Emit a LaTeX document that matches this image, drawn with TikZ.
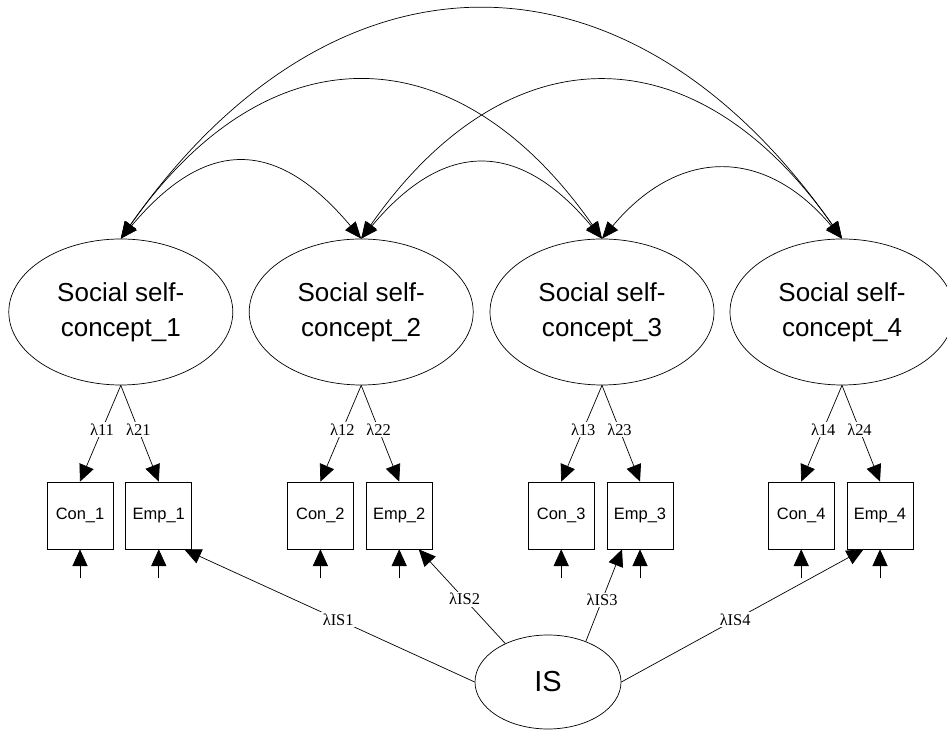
\documentclass[tikz,border=0pt]{standalone}
\usepackage{fontspec}
\setmainfont{Liberation Serif}
\setsansfont{Liberation Sans}
\usetikzlibrary{shapes.geometric,arrows.meta,positioning}
\begin{document}
\begin{tikzpicture}
[latentdecorate/.style={shape=ellipse,draw,line width=0.5pt,minimum width=5.6cm,
  minimum height=3.65cm,inner sep=0pt,align=center,
  font=\sffamily\fontsize{18.5}{24.9}\selectfont},%
  manifestdecorate/.style={shape=rectangle,draw,line width=0.5pt,minimum width=1.65cm,
  minimum height=1.675cm,inner sep=0pt,font=\sffamily\fontsize{11.7}{14}\selectfont},%
  arrowdecorate/.style={-{Triangle[length=0.42cm,width=0.38cm]},line width=0.5pt},%
  covdecorate/.style={{Triangle[length=0.42cm,width=0.34cm]}-{Triangle[length=0.42cm,width=0.34cm]},
  line width=0.5pt},%
  labeldecorate/.style={fill=white,inner sep=1pt,font=\fontsize{11.7}{14}\selectfont}]
\useasboundingbox (0,0) rectangle (23.675,18.25);
%% latent factors and their indicators
\foreach \nodename/\x in {1/3.02, 2/9.03, 3/15.05, 4/21.05}
{
  \node (ss\nodename) at (\x,10.45) [latentdecorate] {Social self-\\concept\_\nodename};
  \node (con\nodename) at (\x-1.02,5.3625) [manifestdecorate] {Con\_\nodename};
  \node (emp\nodename) at (\x+0.95,5.3625) [manifestdecorate] {Emp\_\nodename};
  \coordinate [below=0.725cm of con\nodename] (econ\nodename);
  \coordinate [below=0.725cm of emp\nodename] (eemp\nodename);
}
\node (IS) at (13.7,1.2) [latentdecorate,minimum width=3.65cm,minimum height=2.35cm,
  font=\sffamily\fontsize{20.6}{24}\selectfont] {IS};
%% loadings and errors
\foreach \i in {1,2,3,4}
{
  \draw [arrowdecorate] (ss\i.south) -- node[labeldecorate,pos=0.46] {λ1\i} (con\i.north);
  \draw [arrowdecorate] (ss\i.south) -- node[labeldecorate,pos=0.46] {λ2\i} (emp\i.north);
  \draw [arrowdecorate] (econ\i) -- (con\i.south);
  \draw [arrowdecorate] (eemp\i) -- (emp\i.south);
}
%% covariances
\path
\foreach \startnode/\endnode/\outangle/\inangle/\loose in {1/2/50/130/1.41,
  2/3/50/130/1.38, 3/4/50/130/1.28, 1/3/55/125/1.36, 2/4/55/125/1.36, 1/4/55/125/1.32} {
  (ss\startnode.north) edge[covdecorate,out=\outangle,in=\inangle,looseness=\loose] (ss\endnode.north)
};
%% IS paths
\foreach \i/\from/\to/\where in {1/west/-53/0.47, 2/138/-60/0.47, 3/47/-118/0.45, 4/east/-116/0.47}
{
  \draw [arrowdecorate] (IS.\from) -- node[labeldecorate,pos=\where] {λIS\i} (emp\i.\to);
}
\end{tikzpicture}
\end{document}
